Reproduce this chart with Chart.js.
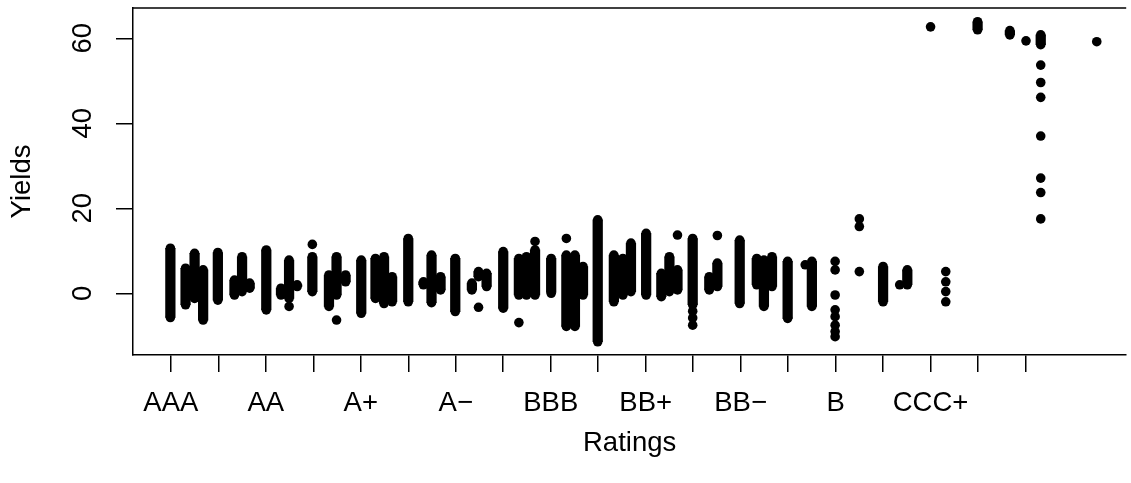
<!DOCTYPE html>
<html><head><meta charset="utf-8">
<script src="https://cdn.jsdelivr.net/npm/chart.js@4/dist/chart.umd.min.js"></script>
<style>html,body{margin:0;padding:0;background:#fff;overflow:hidden}canvas{display:block}</style>
</head><body>
<canvas id="c" width="1131" height="483"></canvas>
<script>
// Rating categories (axis positions 1..19)
const ratings = ['AAA','AA+','AA','AA−','A+','A','A−','BBB+','BBB','BBB−','BB+','BB','BB−','B+','B','B−','CCC+','CCC','CCC−'];
// Tick labels actually printed (R drops overlapping ones)
const tickLabels = ['AAA','','AA','','A+','','A−','','BBB','','BB+','','BB−','','B','','CCC+','',''];
const yTicks = [0, 20, 40, 60];

// Dense runs of overlapping points: position, lowest and highest yield
const stripX    = [0.99,1.31,1.50,1.68,1.99,2.34,2.50,2.66,3.01,3.32,3.49,3.66,3.98,4.33,4.49,4.68,5.01,5.31,5.49,5.66,6.00,6.32,6.49,6.68,6.99,7.34,7.48,7.65,8.00,8.33,8.49,8.67,9.01,9.33,9.51,9.68,9.99,10.33,10.52,10.69,11.01,11.33,11.50,11.67,11.99,12.34,12.51,12.98,13.34,13.49,13.66,13.99,14.50,16.00,16.51,17.99,18.67,19.32];
const stripHigh = [10.6,5.9,9.4,5.5,9.6,3.1,8.6,2.4,10.2,1.2,7.8,2.0,8.6,4.3,8.6,4.3,7.8,8.2,8.6,3.9,12.9,2.7,9.0,3.9,8.2,2.4,5.1,4.7,9.8,8.2,8.6,10.2,8.2,9.0,9.0,6.3,17.3,9.0,8.2,11.8,14.1,4.7,8.6,5.5,12.9,3.9,7.1,12.5,8.2,7.8,8.6,7.5,7.5,6.3,5.5,63.9,61.8,60.8];
const stripLow  = [-5.7,-2.7,-1.2,-6.3,-1.6,-0.4,0.4,1.2,-3.9,-0.4,-1.2,1.6,0.4,-3.1,-0.4,2.7,-4.7,-1.2,-2.4,-2.0,-2.0,2.0,-2.2,0.8,-4.3,0.8,3.9,1.6,-3.5,-0.4,-0.4,-0.4,0.0,-7.8,-7.8,-0.4,-11.4,-2.0,-0.4,0.4,-0.4,-0.8,0.4,0.8,-2.7,0.8,1.6,-2.4,2.0,-3.1,1.6,-5.9,-3.1,-2.0,2.0,62.0,60.8,58.5];

// Isolated points
const dotX = [3.49,3.98,4.49,7.48,8.33,8.67,9.33,11.67,11.99,11.99,11.99,12.51,14.36,14.99,14.99,14.99,14.99,14.99,14.99,14.99,14.99,15.50,15.50,15.50,16.35,17.32,17.32,17.32,17.32,17.00,19.01,19.32,19.32,19.32,19.32,19.32,19.32,19.32,20.50];
const dotY = [-3.1,11.5,-6.3,-3.3,-6.9,12.2,12.9,13.7,-4.2,-5.8,-7.5,13.6,6.7,7.5,5.5,-0.4,-3.9,-5.5,-7.5,-9.0,-10.2,17.5,15.7,5.1,2.0,5.1,2.7,0.4,-2.0,62.7,59.4,53.7,49.6,46.1,37.0,27.1,23.7,17.5,59.2];

const FONT = {family: "'Liberation Sans', Arial, Helvetica, sans-serif", size: 27.5};
Chart.defaults.color = '#000';
Chart.defaults.font.family = FONT.family;

const stripData = stripX.map((x, i) => ({x, y: [stripLow[i], stripHigh[i]]}));
const capData = stripX.flatMap((x, i) => [{x, y: stripLow[i]}, {x, y: stripHigh[i]}]);
const dotData = dotX.map((x, i) => ({x, y: dotY[i]}));

const topBorder = {
  id: 'topBorder',
  afterDraw(chart) {
    const {ctx, chartArea: a} = chart;
    ctx.save();
    ctx.strokeStyle = '#000'; ctx.lineWidth = 1.5;
    ctx.beginPath(); ctx.moveTo(a.left, a.top); ctx.lineTo(a.right, a.top); ctx.stroke();
    ctx.restore();
  }
};

new Chart(document.getElementById('c'), {
  type: 'bar',
  data: {datasets: [
    {type: 'bar', data: stripData, backgroundColor: '#000', borderWidth: 0, barThickness: 9.6, grouped: false},
    {type: 'scatter', data: capData.concat(dotData), backgroundColor: '#000', borderWidth: 0, pointRadius: 4.8, pointHoverRadius: 4.8}
  ]},
  options: {
    responsive: false, animation: false, devicePixelRatio: 1,
    layout: {padding: {left: 0, top: 8, right: 0, bottom: 0}},
    plugins: {legend: {display: false}, tooltip: {enabled: false}},
    scales: {
      x: {
        type: 'linear', min: 0.203, max: 21.12, offset: false,
        afterBuildTicks: s => { s.ticks = ratings.map((r, i) => ({value: i + 1})); },
        afterFit: s => { s.height = 128; s.paddingLeft = 0; s.paddingRight = 0; },
        grid: {offset: false, drawOnChartArea: false, drawTicks: true, tickLength: 17, color: '#000', lineWidth: 1.5},
        border: {display: true, color: '#000', width: 1.5},
        ticks: {autoSkip: false, maxRotation: 0, minRotation: 0, padding: 15, font: FONT, color: '#000',
                callback: (v, i) => tickLabels[i]},
        title: {display: true, text: 'Ratings', font: FONT, color: '#000', padding: {top: 0, bottom: 23}}
      },
      y: {
        type: 'linear', min: -14.52, max: 67.13,
        afterBuildTicks: s => { s.ticks = yTicks.map(v => ({value: v})); },
        afterFit: s => { s.width = 133; s.paddingTop = 0; s.paddingBottom = 0; },
        grid: {drawOnChartArea: false, tickLength: 17, color: '#000', lineWidth: 1.5},
        border: {display: true, color: '#000', width: 1.5},
        ticks: {minRotation: 90, maxRotation: 90, crossAlign: 'center', padding: 17, font: FONT, color: '#000',
                callback: v => String(v)},
        title: {display: true, text: 'Yields', font: FONT, color: '#000', padding: {top: 6, bottom: 0}}
      }
    }
  },
  plugins: [topBorder]
});
</script>
</body></html>
